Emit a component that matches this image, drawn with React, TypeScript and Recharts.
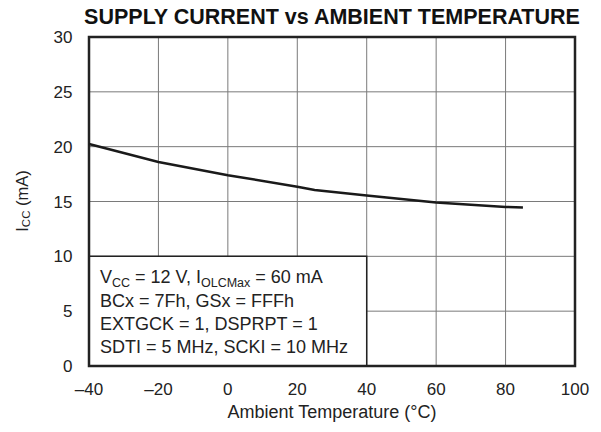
import React from "react"
import {
  LineChart,
  Line,
  XAxis,
  YAxis,
  CartesianGrid,
  ReferenceArea,
} from "recharts"

const temperatures = [-40, -20, 0, 20, 25, 40, 60, 80, 85]
const supplyCurrent = [20.25, 18.6, 17.4, 16.35, 16.05, 15.55, 14.9, 14.5, 14.45]

const xTicks = [-40, -20, 0, 20, 40, 60, 80, 100]
const yTicks = [0, 5, 10, 15, 20, 25, 30]

const noteLines = [
  "BCx = 7Fh, GSx = FFFh",
  "EXTGCK = 1, DSPRPT = 1",
  "SDTI = 5 MHz, SCKI = 10 MHz",
]

const data = temperatures.map((t, i) => ({ t, icc: supplyCurrent[i] }))

const FONT = "'Liberation Sans', Arial, Helvetica, sans-serif"

const fmtTick = (v: number) => (v < 0 ? "\u2013" + Math.abs(v) : String(v))

function NoteText(props: any) {
  const { x, y } = props.viewBox
  const left = x + 11
  const top = y + 27
  const step = 23.2
  return (
    <text fontFamily={FONT} fontSize={18} fill="#222">
      <tspan x={left} y={top}>V</tspan>
      <tspan dy={3.5} fontSize={12.5}>CC</tspan>
      <tspan dy={-3.5}> = 12 V, I</tspan>
      <tspan dy={3.5} fontSize={12.5}>OLCMax</tspan>
      <tspan dy={-3.5}> = 60 mA</tspan>
      {noteLines.map((line, i) => (
        <tspan key={line} x={left} y={top + step * (i + 1)}>
          {line}
        </tspan>
      ))}
    </text>
  )
}

function YLabel(props: any) {
  const cx = 22
  const cy = 201
  return (
    <text
      transform={`rotate(-90 ${cx} ${cy})`}
      x={cx}
      y={cy}
      textAnchor="middle"
      dominantBaseline="central"
      fontFamily={FONT}
      fontSize={16.5}
      fill="#222"
    >
      <tspan>I</tspan>
      <tspan dy={4} fontSize={11.5}>CC</tspan>
      <tspan dy={-4}> (mA)</tspan>
    </text>
  )
}

function XLabel(props: any) {
  return (
    <text
      x={332}
      y={418}
      textAnchor="middle"
      fontFamily={FONT}
      fontSize={18}
      fill="#222"
    >
      Ambient Temperature (°C)
    </text>
  )
}

export default function App() {
  return (
    <div style={{ position: "absolute", left: 0, top: 0, width: 601, height: 432, background: "#fff" }}>
      <div
        style={{
          position: "absolute",
          left: 83,
          top: 5,
          width: 498,
          textAlign: "center",
          fontFamily: FONT,
          fontWeight: "bold",
          fontSize: 21.5,
          color: "#111",
          whiteSpace: "nowrap",
        }}
      >
        SUPPLY CURRENT vs AMBIENT TEMPERATURE
      </div>
      <LineChart
        width={601}
        height={432}
        data={data}
        margin={{ top: 37, right: 26, bottom: 36, left: 39 }}
      >
        <CartesianGrid stroke="#7a7a7a" strokeWidth={1} />
        <XAxis
          dataKey="t"
          type="number"
          domain={[-40, 100]}
          ticks={xTicks}
          tickFormatter={fmtTick}
          axisLine={false}
          tickLine={false}
          tickSize={0}
          tickMargin={17}
          height={30}
          tick={{ fontFamily: FONT, fontSize: 17, fill: "#222" }}
          label={<XLabel />}
        />
        <YAxis
          type="number"
          domain={[0, 30]}
          ticks={yTicks}
          axisLine={false}
          tickLine={false}
          tickSize={0}
          tickMargin={16.5}
          width={50}
          tick={{ fontFamily: FONT, fontSize: 17, fill: "#222" }}
          label={<YLabel />}
        />
        <ReferenceArea
          x1={-40}
          x2={40}
          y1={0}
          y2={10}
          fill="#fff"
          fillOpacity={1}
          stroke="#222"
          strokeWidth={1.5}
          label={<NoteText />}
        />
        <ReferenceArea
          x1={-40}
          x2={100}
          y1={0}
          y2={30}
          fill="none"
          stroke="#222"
          strokeWidth={2.5}
        />
        <Line
          type="linear"
          dataKey="icc"
          stroke="#1a1a1a"
          strokeWidth={2.5}
          dot={false}
          isAnimationActive={false}
        />
      </LineChart>
    </div>
  )
}
